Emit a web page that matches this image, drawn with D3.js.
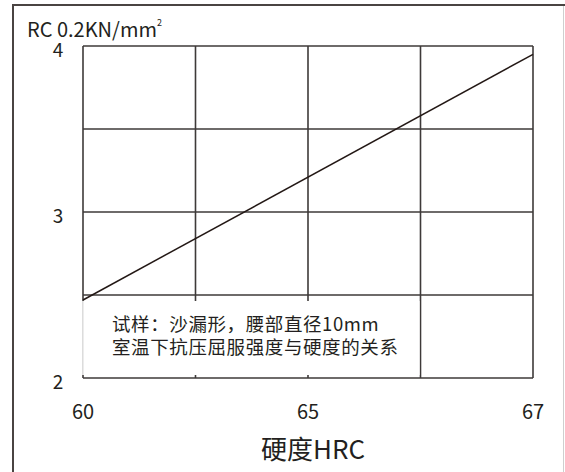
<!DOCTYPE html>
<html>
<head>
<meta charset="utf-8">
<script src="https://cdn.jsdelivr.net/npm/d3@7"></script>
<style>
  html, body { margin: 0; padding: 0; background: #fff; }
  svg { display: block; }
  text { font-family: "Noto Sans CJK SC", "Noto Sans", sans-serif; fill: #231f20; font-weight: 400; }
</style>
</head>
<body>
<svg id="chart" width="565" height="472"></svg>
<script>
// Hardness positions along the x axis (equal spacing) and their labels
const xTickLabels = ["60", "", "65", "", "67"];
// Compressive yield strength axis (0.2 kN/mm² units)
const yTicks = [2, 2.5, 3, 3.5, 4];
const yTickLabels = ["2", "", "3", "", "4"];
// Yield strength vs hardness: endpoints of the fitted line
const lineHardness = ["60", "67"];
const lineStrength = [2.47, 3.95];

const yUnitLabel = "RC 0.2KN/mm";
const xTitle = "硬度HRC";
const noteLines = ["试样：沙漏形，腰部直径10mm", "室温下抗压屈服强度与硬度的关系"];

const ink = "#3e3a39";
const svg = d3.select("#chart");

const plot = { left: 83, right: 533, top: 46, bottom: 378 };

const x = d3.scaleLinear().domain([0, xTickLabels.length - 1]).range([plot.left, plot.right]);
const y = d3.scaleLinear().domain([2, 4]).range([plot.bottom, plot.top]);

// Outer frame
svg.append("line").attr("x1", 13).attr("x2", 13).attr("y1", 5).attr("y2", 472)
  .attr("stroke", "#4a4442").attr("stroke-width", 2);
svg.append("line").attr("x1", 12).attr("x2", 565).attr("y1", 5).attr("y2", 5)
  .attr("stroke", "#4a4442").attr("stroke-width", 2);
svg.append("line").attr("x1", 563.5).attr("x2", 563.5).attr("y1", 6).attr("y2", 472)
  .attr("stroke", "#cfcfcf").attr("stroke-width", 1);

// Grid lines
const g = svg.append("g");
g.selectAll("line.v").data(d3.range(xTickLabels.length)).join("line")
  .attr("class", "v")
  .attr("x1", d => x(d)).attr("x2", d => x(d))
  .attr("y1", plot.top).attr("y2", plot.bottom)
  .attr("stroke", ink).attr("stroke-width", 1.6);
g.selectAll("line.h").data(yTicks).join("line")
  .attr("class", "h")
  .attr("x1", plot.left).attr("x2", plot.right)
  .attr("y1", d => y(d)).attr("y2", d => y(d))
  .attr("stroke", ink).attr("stroke-width", 1.6);

// Data line
const line = d3.line()
  .x(d => x(xTickLabels.indexOf(d[0])))
  .y(d => y(d[1]));
svg.append("path")
  .datum(lineHardness.map((h, i) => [h, lineStrength[i]]))
  .attr("d", line)
  .attr("fill", "none")
  .attr("stroke", "#231815")
  .attr("stroke-width", 1.5);

// Note box covering the lower-left grid
const boxTop = y(lineStrength[0]) + 1;
const boxRight = x(3) - 1;
svg.append("rect")
  .attr("x", plot.left - 0.8).attr("y", boxTop)
  .attr("width", boxRight - plot.left + 0.8)
  .attr("height", plot.bottom - 3 - boxTop)
  .attr("fill", "#fff");
svg.append("line")
  .attr("x1", plot.left).attr("x2", plot.left)
  .attr("y1", boxTop).attr("y2", plot.bottom - 3)
  .attr("stroke", "#d9d9d9").attr("stroke-width", 1);

const note = svg.append("text")
  .attr("font-size", 18.5)
  .attr("letter-spacing", 0.6);
noteLines.forEach((t, i) => {
  note.append("tspan").attr("x", 112).attr("y", 331 + i * 23).text(t);
});

// Axis tick labels
svg.append("g").selectAll("text").data(yTicks.map((v, i) => [v, yTickLabels[i]]).filter(d => d[1]))
  .join("text")
  .attr("x", 58).attr("y", d => y(d[0]) + 2)
  .attr("text-anchor", "middle").attr("dominant-baseline", "central")
  .attr("font-size", 19)
  .text(d => d[1]);

svg.append("g").selectAll("text").data(xTickLabels.map((l, i) => [i, l]).filter(d => d[1]))
  .join("text")
  .attr("x", d => x(d[0])).attr("y", 419)
  .attr("text-anchor", "middle")
  .attr("font-size", 20)
  .text(d => d[1]);

// Axis titles
const unit = svg.append("text").attr("x", 27).attr("y", 36.5).attr("font-size", 20);
unit.append("tspan").text(yUnitLabel);
unit.append("tspan").attr("font-size", 9).attr("dy", -11).text("2");

svg.append("text")
  .attr("x", 313).attr("y", 459)
  .attr("text-anchor", "middle")
  .attr("font-size", 26)
  .text(xTitle);
</script>
</body>
</html>
